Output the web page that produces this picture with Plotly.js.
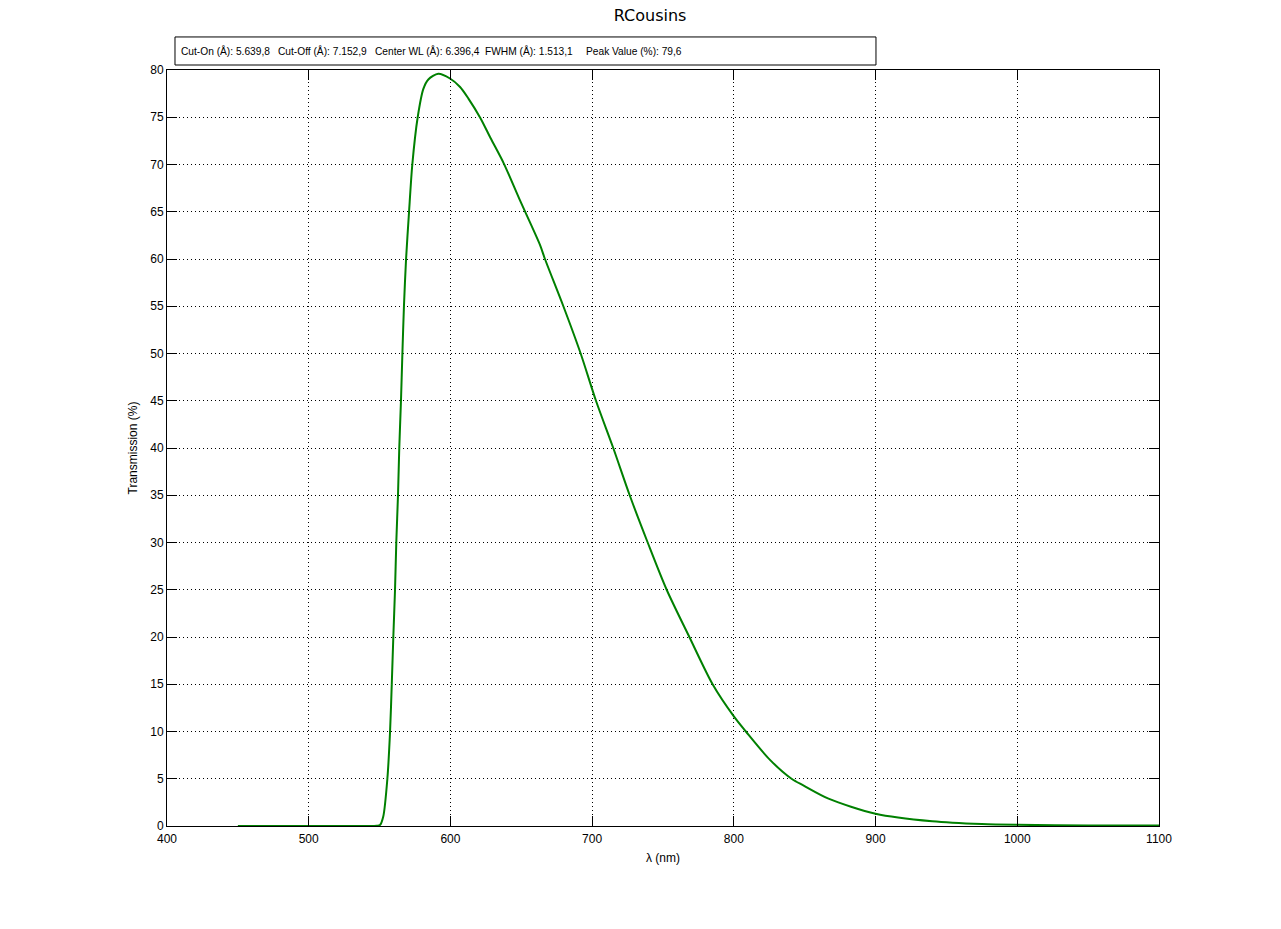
<!DOCTYPE html>
<html>
<head>
<meta charset="utf-8">
<script src="https://cdn.plot.ly/plotly-3.0.1.min.js"></script>
<style>html,body{margin:0;padding:0;background:#fff;}#chart{width:1281px;height:929px;}</style>
</head>
<body>
<div id="chart"></div>
<script>
// Wavelength (nm) and transmission (%)
const wavelength = [450, 500, 540, 548, 550.3, 552.6, 555.5, 557.4, 558.6, 559.7, 560.9, 561.8, 563.0, 563.9, 565.1, 566.1, 567.2, 568.7, 570.8, 573.1, 576.9, 580.9, 584.4, 591.4, 599.7, 606.8, 612.6, 621.2, 628.3, 637.7, 649.1, 663.2, 666.7, 679.7, 691.9, 702.7, 714.9, 726.5, 739.2, 752.6, 768.6, 785, 800, 808.5, 825.5, 840.7, 849, 866.8, 900, 940, 975, 1000, 1050, 1100];
const transmission = [0, 0, 0, 0.02, 0.1, 1, 5, 10, 15, 20, 25, 30, 35, 40, 45, 50, 55, 60, 65, 70, 75, 78, 79, 79.6, 79.1, 78.2, 77.0, 74.9, 72.8, 70.1, 66.2, 61.5, 60, 55, 50, 45, 40, 35, 30, 25, 20, 15, 11.6, 10, 7.0, 5, 4.3, 2.9, 1.3, 0.5, 0.2, 0.12, 0.06, 0.04];

const statLabels = ["Cut-On (Å): 5.639,8", "Cut-Off (Å): 7.152,9", "Center WL (Å): 6.396,4", "FWHM (Å): 1.513,1", "Peak Value (%): 79,6"];
const statPos = [0.0124, 0.1099, 0.2073, 0.3188, 0.4207];

const xTicks = [400, 500, 600, 700, 800, 900, 1000, 1100];
const yTicks = [0, 5, 10, 15, 20, 25, 30, 35, 40, 45, 50, 55, 60, 65, 70, 75, 80];

const tickFont = {family: "Liberation Sans, Arial, sans-serif", size: 12, color: "#000"};
const boxFont = {family: "Liberation Sans, Arial, sans-serif", size: 10.2, color: "#000"};

const annotations = statLabels.map((t, i) => ({
  text: t, xref: "paper", yref: "paper", x: statPos[i], y: 1.0251,
  xanchor: "left", yanchor: "middle", showarrow: false, font: boxFont
}));

const axisCommon = {
  showline: true, linecolor: "#000", linewidth: 1, mirror: "ticks",
  ticks: "inside", ticklen: 10, tickwidth: 1, tickcolor: "#000",
  showgrid: true, gridcolor: "#000", gridwidth: 1, griddash: "1px,3px",
  zeroline: false, tickfont: tickFont, automargin: false
};

const data = [{
  x: wavelength, y: transmission, type: "scatter", mode: "lines",
  line: {color: "#008000", width: 2, shape: "spline", smoothing: 0.8}, hoverinfo: "x+y"
}];

const layout = {
  width: 1281, height: 929,
  paper_bgcolor: "#fff", plot_bgcolor: "#fff",
  margin: {l: 167, r: 122, t: 70, b: 103},
  showlegend: false,
  title: {text: "RCousins", x: 0.487, xref: "paper", xanchor: "center", y: 0.983, yanchor: "middle",
          font: {family: "DejaVu Sans, sans-serif", size: 16, color: "#000", weight: 500}},
  xaxis: Object.assign({}, axisCommon, {
    range: [400, 1100], tickvals: xTicks, ticktext: xTicks.map(String), ticklabelstandoff: 2,
    title: {text: "λ (nm)", font: tickFont, standoff: 8}
  }),
  yaxis: Object.assign({}, axisCommon, {
    range: [0, 80], tickvals: yTicks, ticktext: yTicks.map(String),
    title: {text: "Transmission (%)", font: tickFont, standoff: 10}
  }),
  shapes: [{
    type: "rect", xref: "paper", yref: "paper",
    x0: 0.00806, x1: 0.7147, y0: 1.0066, y1: 1.0437,
    line: {color: "#000", width: 1}, fillcolor: "#fff", layer: "above"
  }],
  annotations: annotations
};

Plotly.newPlot("chart", data, layout, {displayModeBar: false, staticPlot: true});
</script>
</body>
</html>
